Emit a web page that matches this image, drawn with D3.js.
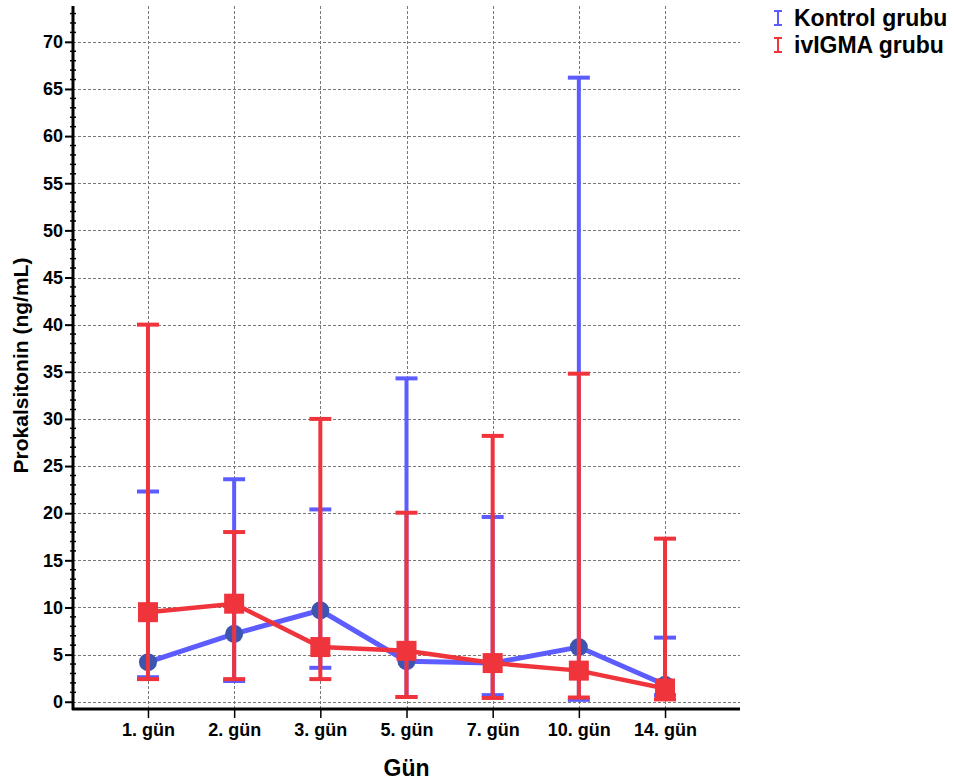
<!DOCTYPE html>
<html>
<head>
<meta charset="utf-8">
<script src="https://cdn.jsdelivr.net/npm/d3@7"></script>
<style>
  body { margin: 0; background: #fff; }
  svg text { font-family: "Liberation Sans", Arial, sans-serif; font-weight: bold; fill: #000; }
</style>
</head>
<body>
<div id="chart"></div>
<script>
const days = ['1. gün', '2. gün', '3. gün', '5. gün', '7. gün', '10. gün', '14. gün']

const kontrolMean = [4.2, 7.2, 9.7, 4.3, 4.1, 5.8, 1.8]
const kontrolLow = [2.6, 2.2, 3.6, 0.5, 0.7, 0.2, 0.7]
const kontrolHigh = [22.3, 23.6, 20.4, 34.3, 19.6, 66.2, 6.8]

const ivigmaMean = [9.5, 10.4, 5.8, 5.4, 4.1, 3.3, 1.4]
const ivigmaLow = [2.4, 2.4, 2.4, 0.5, 0.4, 0.45, 0.25]
const ivigmaHigh = [40.0, 18.0, 30.0, 20.05, 28.2, 34.8, 17.3]

const yTicks = d3.range(0, 71, 5)

const width = 954, height = 783
const plotLeft = 73, plotRight = 740, plotTop = 6, plotBottom = 709

const svg = d3.select('#chart').append('svg')
  .attr('width', width)
  .attr('height', height)

let x = d3.scalePoint().domain(days).range([plotLeft, plotRight]).padding(0.87)
let y = d3.scaleLinear().domain([-0.77, 73.8]).range([plotBottom, plotTop])

// grid
let grid = svg.append('g').attr('stroke', '#777').attr('stroke-width', 1).attr('stroke-dasharray', '3,2')
grid.selectAll('.hgrid').data(yTicks).enter().append('line')
  .attr('x1', plotLeft).attr('x2', plotRight)
  .attr('y1', d => Math.round(y(d)) + 0.5).attr('y2', d => Math.round(y(d)) + 0.5)
grid.selectAll('.vgrid').data(days).enter().append('line')
  .attr('x1', d => Math.round(x(d)) + 0.5).attr('x2', d => Math.round(x(d)) + 0.5)
  .attr('y1', plotTop).attr('y2', plotBottom)

// axes
let yAxis = svg.append('g').attr('transform', 'translate(' + plotLeft + ',0)')
  .call(d3.axisLeft(y).tickValues(yTicks).tickSize(8).tickPadding(2))
yAxis.select('.domain').remove()
yAxis.selectAll('text').style('font-size', '18px')
yAxis.selectAll('line').attr('stroke-width', 2)
yAxis.append('g').selectAll('line').data(d3.range(0, 74, 1).filter(v => v % 5 !== 0)).enter().append('line')
  .attr('x1', -3).attr('x2', 3)
  .attr('y1', d => y(d)).attr('y2', d => y(d))
  .attr('stroke', '#000').attr('stroke-width', 1.5)

let xAxis = svg.append('g').attr('transform', 'translate(0,' + plotBottom + ')')
  .call(d3.axisBottom(x).tickSize(9).tickPadding(5))
xAxis.select('.domain').remove()
xAxis.selectAll('text').style('font-size', '18px')
xAxis.selectAll('line').attr('stroke-width', 1.5)

svg.append('line').attr('x1', plotLeft).attr('x2', plotLeft).attr('y1', plotTop).attr('y2', plotBottom + 1)
  .attr('stroke', '#000').attr('stroke-width', 3)
svg.append('line').attr('x1', plotLeft - 1).attr('x2', plotRight).attr('y1', plotBottom).attr('y2', plotBottom)
  .attr('stroke', '#000').attr('stroke-width', 3)

// series
const capHalf = 11
function drawSeries(mean, low, high, barColor, lineColor, lineWidth, markerColor, marker) {
  let g = svg.append('g')
  let rows = days.map((d, i) => ({day: d, mean: mean[i], low: low[i], high: high[i]}))

  let line = d3.line()
    .x(item => x(item.day))
    .y(item => y(item.mean))
  g.append('path').datum(rows)
    .attr('d', line)
    .attr('fill', 'none')
    .attr('stroke', lineColor)
    .attr('stroke-width', lineWidth)

  if (marker === 'circle') {
    g.selectAll('.dot').data(rows).enter().append('circle')
      .attr('cx', item => x(item.day))
      .attr('cy', item => y(item.mean))
      .attr('r', 9)
      .attr('fill', markerColor)
  } else {
    g.selectAll('.sq').data(rows).enter().append('rect')
      .attr('x', item => x(item.day) - 10)
      .attr('y', item => y(item.mean) - 10)
      .attr('width', 20).attr('height', 20)
      .attr('fill', markerColor)
  }

  let bars = g.selectAll('.bar').data(rows).enter().append('g')
    .attr('stroke', barColor).attr('stroke-width', 4)
  bars.append('line')
    .attr('x1', item => x(item.day)).attr('x2', item => x(item.day))
    .attr('y1', item => y(item.low)).attr('y2', item => y(item.high))
  bars.append('line')
    .attr('x1', item => x(item.day) - capHalf).attr('x2', item => x(item.day) + capHalf)
    .attr('y1', item => y(item.low)).attr('y2', item => y(item.low))
  bars.append('line')
    .attr('x1', item => x(item.day) - capHalf).attr('x2', item => x(item.day) + capHalf)
    .attr('y1', item => y(item.high)).attr('y2', item => y(item.high))
}

drawSeries(kontrolMean, kontrolLow, kontrolHigh, '#5c5cff', '#5c5cff', 5, '#3c56b0', 'circle')
drawSeries(ivigmaMean, ivigmaLow, ivigmaHigh, '#f0343c', '#f0343c', 4.5, '#f0343c', 'square')

// titles
svg.append('text')
  .attr('transform', 'translate(28,' + ((plotTop + plotBottom) / 2 + 8) + ') rotate(-90)')
  .attr('text-anchor', 'middle')
  .style('font-size', '21px')
  .text('Prokalsitonin (ng/mL)')

svg.append('text')
  .attr('x', x('5. gün'))
  .attr('y', 776)
  .attr('text-anchor', 'middle')
  .style('font-size', '23px')
  .text('Gün')

// legend
const legendItems = [['Kontrol grubu', '#5c5cff'], ['ivIGMA grubu', '#f0343c']]
let legend = svg.append('g').attr('transform', 'translate(778,18)')
legendItems.forEach((item, i) => {
  let row = legend.append('g').attr('transform', 'translate(0,' + (i * 27) + ')')
  row.append('path')
    .attr('d', 'M-4,-7H4M0,-7V7M-4,7H4')
    .attr('stroke', item[1]).attr('stroke-width', 2).attr('fill', 'none')
  row.append('text').attr('x', 16).attr('y', 8)
    .style('font-size', '23px')
    .text(item[0])
})
</script>
</body>
</html>
